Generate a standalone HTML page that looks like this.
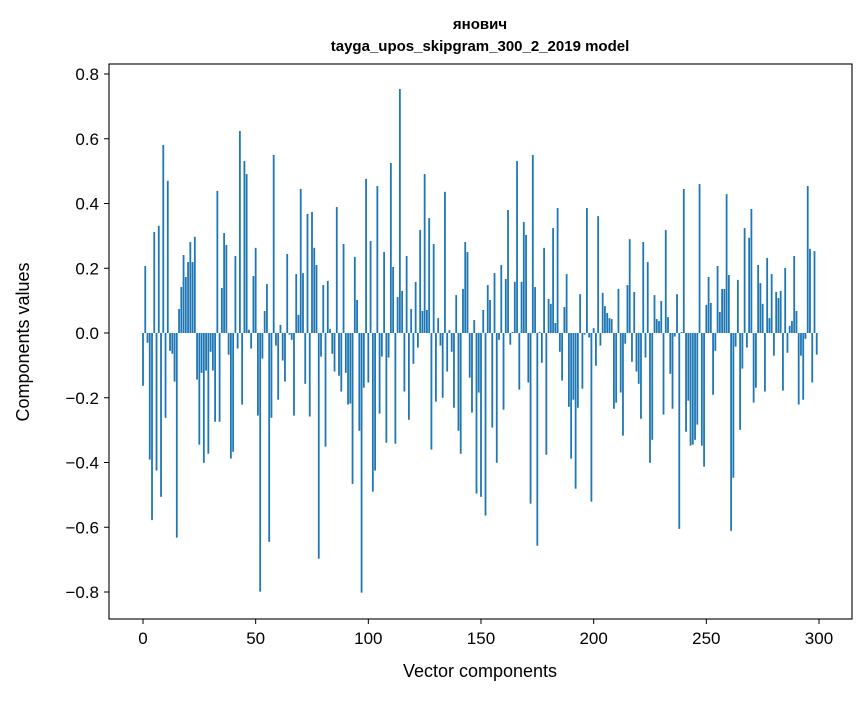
<!DOCTYPE html>
<html><head><meta charset="utf-8"><style>
body{margin:0;background:#fff;}
svg text{font-family:"Liberation Sans","DejaVu Sans",sans-serif;}
</style></head><body>
<svg id="chart" width="867" height="696" xmlns="http://www.w3.org/2000/svg">
<rect width="867" height="696" fill="#fff"/>
<text x="480" y="29" text-anchor="middle" font-size="15" font-weight="bold">янович</text>
<text x="480" y="51" text-anchor="middle" font-size="15" font-weight="bold">tayga_upos_skipgram_300_2_2019 model</text>
<g id="bars"></g>
<g id="yticks"></g>
<g id="xticks"></g>
<rect x="109" y="64" width="743" height="555" fill="none" stroke="#000" stroke-width="1.1"/>
<text x="480" y="677" text-anchor="middle" font-size="18">Vector components</text>
<text x="29" y="342" text-anchor="middle" font-size="18" transform="rotate(-90 29 342)">Components values</text>
</svg>
<script>
const values = [
-0.163,0.207,-0.030,-0.391,-0.578,0.312,-0.425,0.331,-0.506,0.581,
-0.262,0.470,-0.055,-0.064,-0.150,-0.632,0.074,0.142,0.241,0.173,
0.219,0.281,0.219,0.297,-0.144,-0.345,-0.123,-0.401,-0.116,-0.373,
-0.058,-0.116,-0.274,0.439,-0.274,0.139,0.309,0.272,-0.067,-0.388,
-0.367,0.238,-0.048,0.624,-0.221,0.531,0.491,0.010,-0.048,0.176,
0.263,-0.255,-0.799,-0.079,0.068,0.151,-0.645,-0.262,0.550,-0.039,
-0.206,0.025,-0.085,-0.150,0.244,-0.005,-0.021,-0.255,0.182,0.056,
0.445,0.185,-0.157,0.368,-0.258,0.374,0.263,0.210,-0.697,-0.073,
0.148,-0.351,0.161,0.012,-0.064,-0.119,0.389,-0.132,-0.181,0.275,
-0.123,-0.221,-0.218,-0.466,0.235,0.102,-0.302,-0.802,-0.169,0.476,
-0.153,0.284,-0.490,-0.425,0.454,-0.249,-0.073,0.250,-0.339,-0.076,
0.525,0.204,-0.342,0.111,0.754,0.130,-0.181,0.238,-0.268,0.074,
-0.095,0.158,-0.045,0.318,0.068,0.491,0.071,0.355,-0.360,0.275,
-0.212,0.046,-0.039,-0.200,0.436,-0.119,0.009,-0.058,-0.231,0.117,
-0.302,-0.373,0.136,0.281,0.250,-0.138,-0.246,0.040,-0.496,-0.184,
-0.506,0.071,-0.564,0.148,0.102,-0.292,0.185,-0.401,-0.021,0.210,
-0.237,0.167,0.380,-0.036,0.003,0.158,0.531,-0.175,0.158,0.343,
0.303,-0.153,-0.527,0.550,0.142,-0.657,0.003,-0.092,0.263,-0.376,
0.105,0.090,0.324,0.031,0.386,-0.058,-0.147,0.080,0.182,-0.228,
-0.388,-0.206,-0.481,-0.231,0.120,-0.172,-0.005,0.386,-0.014,-0.521,
0.015,-0.101,0.361,-0.039,0.124,0.083,0.062,0.046,0.043,-0.234,
-0.215,0.136,-0.184,-0.317,-0.033,0.148,0.290,-0.089,0.127,-0.119,
-0.157,-0.265,0.281,-0.076,0.219,-0.401,-0.330,0.117,0.043,0.037,
0.099,-0.252,0.318,0.049,-0.126,-0.234,-0.011,0.120,-0.605,0.003,
0.445,-0.305,-0.209,-0.348,-0.345,-0.330,-0.283,0.460,-0.348,-0.413,
0.087,0.173,0.093,-0.191,-0.055,0.207,0.065,0.136,0.136,0.429,
0.179,-0.611,-0.447,-0.042,0.164,-0.299,-0.110,0.324,-0.045,0.294,
0.383,-0.215,-0.169,0.210,0.154,0.090,-0.181,0.232,0.046,0.182,
-0.070,0.127,0.108,0.130,-0.178,0.201,-0.061,0.022,0.037,0.238,
0.068,-0.221,-0.070,-0.206,-0.018,0.454,0.260,-0.153,0.253,-0.067
];
const yTicks = [-0.8,-0.6,-0.4,-0.2,0.0,0.2,0.4,0.6,0.8];
const yTickLabels = ["\u22120.8","\u22120.6","\u22120.4","\u22120.2","0.0","0.2","0.4","0.6","0.8"];
const xTicks = [0,50,100,150,200,250,300];
const xTickLabels = ["0","50","100","150","200","250","300"];

const NS="http://www.w3.org/2000/svg";
function xs(i){return 143+2.2533*i;}
function ys(v){return 333-323.75*v;}
const barsG=document.getElementById('bars');
values.forEach((v,i)=>{
  const r=document.createElementNS(NS,'rect');
  const y0=ys(0),y1=ys(v);
  r.setAttribute('x',xs(i-0.4));
  r.setAttribute('width',xs(0.8)-xs(0));
  r.setAttribute('y',Math.min(y0,y1));
  r.setAttribute('height',Math.abs(y1-y0));
  r.setAttribute('fill','#1f77b4');
  
  
  barsG.appendChild(r);
});
const yg=document.getElementById('yticks');
yTicks.forEach((t,k)=>{
  const y=ys(t);
  const l=document.createElementNS(NS,'line');
  l.setAttribute('x1',104);l.setAttribute('x2',109);l.setAttribute('y1',y);l.setAttribute('y2',y);
  l.setAttribute('stroke','#000');
  
  
  yg.appendChild(l);
  const tx=document.createElementNS(NS,'text');
  tx.setAttribute('x',99);tx.setAttribute('y',y+6);tx.setAttribute('text-anchor','end');tx.setAttribute('font-size','17');
  tx.textContent=yTickLabels[k];
  
  
  yg.appendChild(tx);
});
const xg=document.getElementById('xticks');
xTicks.forEach((t,k)=>{
  const x=xs(t);
  const l=document.createElementNS(NS,'line');
  l.setAttribute('x1',x);l.setAttribute('x2',x);l.setAttribute('y1',619);l.setAttribute('y2',624);
  l.setAttribute('stroke','#000');
  
  
  xg.appendChild(l);
  const tx=document.createElementNS(NS,'text');
  tx.setAttribute('x',x);tx.setAttribute('y',644);tx.setAttribute('text-anchor','middle');tx.setAttribute('font-size','17');
  tx.textContent=xTickLabels[k];
  
  
  xg.appendChild(tx);
});
</script>
</body></html>
